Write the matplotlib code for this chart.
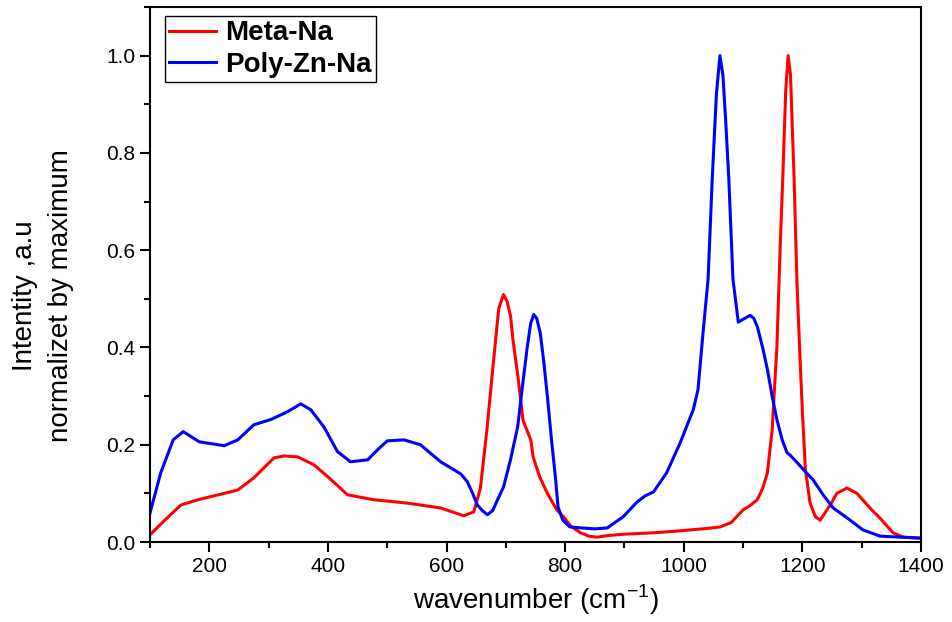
import matplotlib.pyplot as plt
from matplotlib.ticker import MultipleLocator

plt.rcParams['font.family'] = ['Liberation Sans', 'DejaVu Sans']

# Meta-Na spectrum (normalized by maximum)
meta_wn = [100, 125, 152, 181, 215, 248, 275, 309, 326, 349, 376, 400, 433,
           477, 534, 590, 629, 646, 657, 668, 679, 688, 696, 702, 708, 712,
           721, 729, 742, 746, 757, 770, 786, 797, 810, 826, 840, 854, 870,
           898, 950, 994, 1040, 1061, 1080, 1100, 1112, 1124, 1133, 1141,
           1149, 1157, 1163, 1167, 1172, 1176, 1180, 1186, 1191, 1196, 1200,
           1205, 1213, 1222, 1230, 1247, 1258, 1275, 1292, 1314, 1331, 1353,
           1370, 1399]
meta_int = [0.015, 0.045, 0.076, 0.087, 0.097, 0.107, 0.132, 0.173, 0.177,
            0.175, 0.159, 0.134, 0.097, 0.087, 0.080, 0.070, 0.054, 0.062,
            0.110, 0.230, 0.370, 0.480, 0.509, 0.495, 0.464, 0.416, 0.334,
            0.250, 0.210, 0.175, 0.134, 0.100, 0.066, 0.052, 0.032, 0.019,
            0.012, 0.010, 0.013, 0.016, 0.019, 0.023, 0.028, 0.031, 0.040,
            0.066, 0.075, 0.087, 0.110, 0.142, 0.230, 0.400, 0.620, 0.750,
            0.930, 1.000, 0.960, 0.750, 0.530, 0.380, 0.270, 0.150, 0.080,
            0.052, 0.045, 0.076, 0.100, 0.111, 0.100, 0.070, 0.049, 0.019,
            0.010, 0.008]

# Poly-Zn-Na spectrum (normalized by maximum)
poly_wn = [100, 118, 139, 156, 183, 225, 248, 275, 304, 332, 354, 371, 393,
           416, 438, 467, 484, 500, 528, 556, 590, 624, 635, 644, 652, 660,
           669, 678, 686, 696, 708, 720, 728, 736, 742, 747, 752, 758, 764,
           770, 777, 784, 788, 796, 808, 826, 850, 871, 898, 921, 935, 949,
           971, 994, 1016, 1024, 1033, 1041, 1048, 1055, 1061, 1066, 1071,
           1076, 1083, 1092, 1100, 1112, 1118, 1124, 1133, 1141, 1149, 1157,
           1166, 1174, 1179, 1190, 1201, 1218, 1235, 1252, 1275, 1302, 1331,
           1365, 1400]
poly_int = [0.060, 0.142, 0.210, 0.227, 0.206, 0.198, 0.210, 0.241, 0.252,
            0.268, 0.284, 0.272, 0.237, 0.186, 0.165, 0.169, 0.190, 0.208,
            0.210, 0.200, 0.165, 0.140, 0.124, 0.100, 0.076, 0.065, 0.056,
            0.065, 0.087, 0.113, 0.170, 0.237, 0.320, 0.400, 0.450, 0.468,
            0.460, 0.430, 0.370, 0.300, 0.210, 0.128, 0.072, 0.045, 0.031,
            0.029, 0.027, 0.029, 0.052, 0.082, 0.095, 0.103, 0.142, 0.204,
            0.272, 0.313, 0.437, 0.540, 0.746, 0.920, 1.000, 0.960, 0.860,
            0.746, 0.540, 0.452, 0.458, 0.466, 0.460, 0.443, 0.400, 0.355,
            0.300, 0.252, 0.210, 0.184, 0.179, 0.165, 0.150, 0.128, 0.097,
            0.070, 0.050, 0.025, 0.012, 0.010, 0.008]

fig = plt.figure(figsize=(9.52, 6.22), dpi=100)
ax = fig.add_axes([0.1576, 0.1286, 0.8098, 0.8601])

ax.plot(meta_wn, meta_int, color='#ff0000', lw=2.2, label='Meta-Na')
ax.plot(poly_wn, poly_int, color='#0000ff', lw=2.2, label='Poly-Zn-Na')

ax.set_xlim(100, 1400)
ax.set_ylim(0, 1.1)
ax.xaxis.set_major_locator(MultipleLocator(200))
ax.xaxis.set_minor_locator(MultipleLocator(100))
ax.yaxis.set_minor_locator(MultipleLocator(0.1))
ax.set_yticks([0.0, 0.2, 0.4, 0.6, 0.8, 1.0])
ax.set_yticklabels(['0.0', '0.2', '0.4', '0.6', '0.8', '1.0'])

for s in ax.spines.values():
    s.set_linewidth(1.5)
ax.tick_params(which='both', direction='out', width=1.5, labelsize=15,
               top=False, right=False)
ax.tick_params(which='major', length=7)
ax.tick_params(which='minor', length=4)

ax.set_xlabel('wavenumber (cm$^{\\mathregular{-1}}$)', fontsize=20, labelpad=5)
ax.set_ylabel('Intentity ,a.u\nnormalizet by maximum', fontsize=20,
              linespacing=1.5)
ax.yaxis.set_label_coords(-0.098, 0.46)

leg = ax.legend(loc='upper left', bbox_to_anchor=(0.019, 0.983),
                borderaxespad=0, fancybox=False, edgecolor='black',
                framealpha=1, handlelength=1.7, handletextpad=0.32,
                borderpad=0.15, labelspacing=0.2,
                prop={'weight': 'bold', 'size': 20})
leg.get_frame().set_linewidth(1.0)

fig.savefig('out.png', dpi=100)
